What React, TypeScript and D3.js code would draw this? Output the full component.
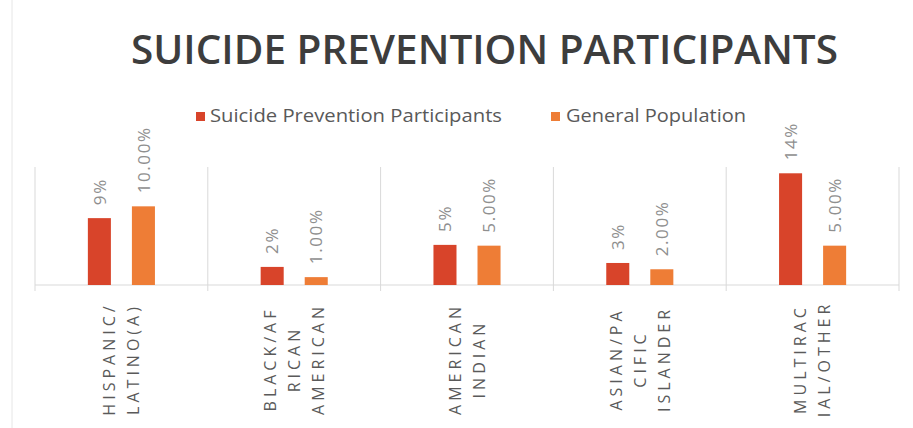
import React from "react";
import * as d3 from "d3";

const categories = [
  "Hispanic/Latino(a)",
  "Black/African American",
  "American Indian",
  "Asian/Pacific Islander",
  "Multiracial/Other",
];
const categoryLines = [
  ["HISPANIC/", "LATINO(A)"],
  ["BLACK/AF", "RICAN", "AMERICAN"],
  ["AMERICAN", "INDIAN"],
  ["ASIAN/PA", "CIFIC", "ISLANDER"],
  ["MULTIRAC", "IAL/OTHER"],
];
const participants = [8.5, 2.3, 5.1, 2.8, 14.2];
const generalPopulation = [10, 1, 5, 2, 5];
const seriesNames = ["Suicide Prevention Participants", "General Population"];
const seriesColors = ["#d8442a", "#ee7d36"];
const seriesFormats = [d3.format(".0f"), d3.format(".2f")];

const W = 913;
const H = 428;
const left = 35;
const right = 899;
const top = 167;
const baseline = 285;

export default function App() {
  const x0 = d3.scaleBand<string>().domain(categories).range([left, right]).padding(0);
  const x1 = d3
    .scaleBand<number>()
    .domain([0, 1])
    .range([0, x0.bandwidth()])
    .paddingInner(0.477)
    .paddingOuter(1.2);
  const y = d3.scaleLinear().domain([0, 15]).range([baseline, top]);
  const series = [participants, generalPopulation];

  const dividers = categories.map((c) => x0(c)!).concat([right]);

  return (
    <svg
      width={W}
      height={H}
      style={{ position: "absolute", left: 0, top: 0, background: "#fff" }}
      fontFamily="'Open Sans', 'Noto Sans', sans-serif"
    >
      <rect x={0} y={0} width={W} height={H} fill="#fff" />
      <line x1={12} x2={12} y1={0} y2={H} stroke="#e6e6e6" strokeWidth={1} />
      <text
        x={131}
        y={64}
        fontSize={39}
        fontWeight={600}
        fill="#3d3d3d"
        textLength={707}
        lengthAdjust="spacingAndGlyphs"
      >
        SUICIDE PREVENTION PARTICIPANTS
      </text>

      {/* legend */}
      <rect x={196} y={112} width={9} height={9} fill={seriesColors[0]} />
      <text x={210} y={122} fontSize={17.5} fill="#595959" textLength={292} lengthAdjust="spacingAndGlyphs">
        {seriesNames[0]}
      </text>
      <rect x={551} y={112} width={9} height={9} fill={seriesColors[1]} />
      <text x={566} y={122} fontSize={17.5} fill="#595959" textLength={180} lengthAdjust="spacingAndGlyphs">
        {seriesNames[1]}
      </text>

      {/* gridlines / dividers */}
      {dividers.map((d, i) => (
        <line key={i} x1={d} x2={d} y1={top} y2={baseline + 6} stroke="#d9d9d9" strokeWidth={1} />
      ))}
      <line x1={left} x2={right} y1={baseline} y2={baseline} stroke="#d9d9d9" strokeWidth={1} />

      {/* bars */}
      {categories.map((c, ci) =>
        series.map((s, si) => {
          const bx = x0(c)! + x1(si)!;
          const bw = x1.bandwidth();
          const by = y(s[ci]);
          const cx = bx + bw / 2;
          const ly = by - 13;
          return (
            <g key={c + si}>
              <rect x={bx} y={by} width={bw} height={baseline - by} fill={seriesColors[si]} />
              <text
                transform={`translate(${cx},${ly}) rotate(-90)`}
                dy="0.36em"
                fontSize={17}
                letterSpacing={1.6}
                fill="#8f8f8f"
              >
                {seriesFormats[si](s[ci])}%
              </text>
            </g>
          );
        })
      )}

      {/* category labels */}
      {categories.map((c, ci) => {
        const cx = x0(c)! + x0.bandwidth() / 2;
        const lines = categoryLines[ci];
        const n = lines.length;
        return (
          <g key={c} transform={`translate(${cx},359) rotate(-90)`}>
            {lines.map((ln, li) => (
              <text
                key={li}
                x={0}
                y={(li - (n - 1) / 2) * 24}
                dy="0.36em"
                textAnchor="middle"
                fontSize={16}
                letterSpacing={4}
                fill="#5a5a5a"
              >
                {ln}
              </text>
            ))}
          </g>
        );
      })}
    </svg>
  );
}
